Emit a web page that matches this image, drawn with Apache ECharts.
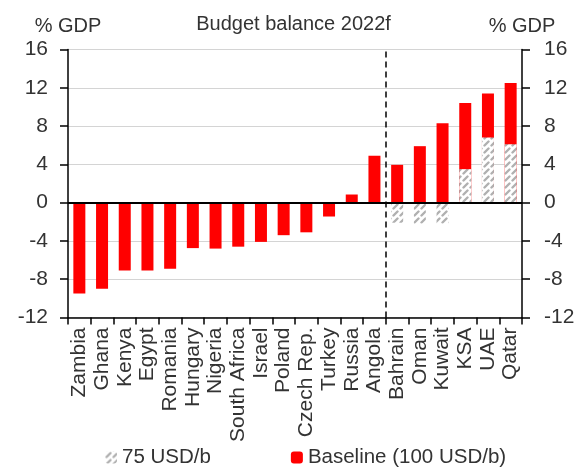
<!DOCTYPE html>
<html>
<head>
<meta charset="utf-8">
<script src="https://cdn.jsdelivr.net/npm/echarts@6/dist/echarts.min.js"></script>
<style>
  html, body { margin: 0; padding: 0; background: #fff; }
  #chart { width: 587px; height: 475px; }
</style>
</head>
<body>
<div id="chart"></div>
<script>
// Budget balance 2022f, % of GDP
const countries = ['Zambia', 'Ghana', 'Kenya', 'Egypt', 'Romania', 'Hungary', 'Nigeria',
  'South Africa', 'Israel', 'Poland', 'Czech Rep.', 'Turkey', 'Russia', 'Angola',
  'Bahrain', 'Oman', 'Kuwait', 'KSA', 'UAE', 'Qatar'];
// Baseline scenario (oil at 100 USD/b)
const baseline = [-9.5, -9.0, -7.1, -7.1, -6.9, -4.75, -4.8, -4.6, -4.1, -3.4, -3.1, -1.45,
  0.85, 4.9, 3.95, 5.9, 8.3, 10.4, 11.4, 12.5];
// Lower oil price scenario (75 USD/b), GCC only
const lowOil = [null, null, null, null, null, null, null, null, null, null, null, null,
  null, null, -2.1, -2.2, -2.2, 3.5, 6.8, 6.1];
const yTicks = [-12, -8, -4, 0, 4, 8, 12, 16];
// GCC block starts after this many categories
const gccStart = 14;

const FONT = "'Liberation Sans', Arial, sans-serif";
const TXT = '#333';

// diagonal dashed hatch fill
function hatch() {
  const c = document.createElement('canvas');
  c.width = 7; c.height = 7;
  const g = c.getContext('2d');
  g.fillStyle = '#fff';
  g.fillRect(0, 0, 7, 7);
  g.strokeStyle = '#b0b0b0';
  g.lineWidth = 2.4;
  g.lineCap = 'round';
  g.beginPath();
  g.moveTo(1.5, 5.5);
  g.lineTo(5.5, 1.5);
  g.stroke();
  return c;
}
const hatchFill = { image: hatch(), repeat: 'repeat' };

const chart = echarts.init(document.getElementById('chart'), null, { renderer: 'canvas' });

const yAxisBase = {
  type: 'value',
  min: yTicks[0],
  max: yTicks[yTicks.length - 1],
  interval: 4,
  name: '% GDP',
  nameLocation: 'end',
  nameGap: 13,
  nameTextStyle: { fontFamily: FONT, fontSize: 20, color: TXT },
  axisLine: { show: true, lineStyle: { color: '#000', width: 1.5 } },
  axisTick: { show: true, length: 8, lineStyle: { color: '#000', width: 1.5 } }
};

chart.setOption({
  animation: false,
  title: {
    text: 'Budget balance 2022f',
    left: 'center',
    top: 9,
    textStyle: { fontFamily: FONT, fontSize: 20, fontWeight: 'normal', color: TXT }
  },
  legend: {
    data: ['75 USD/b', 'Baseline (100 USD/b)'],
    left: 100,
    top: 442,
    itemWidth: 12,
    itemHeight: 12,
    itemGap: 80,
    textStyle: { fontFamily: FONT, fontSize: 20.5, color: TXT }
  },
  grid: { left: 68, right: 65, top: 49.5, bottom: 157.5 },
  xAxis: [{
    type: 'category',
    data: countries,
    position: 'bottom',
    axisLine: { onZero: false, lineStyle: { color: '#000', width: 1.5 } },
    axisTick: { show: true, length: 7, lineStyle: { color: '#000', width: 1.5 } },
    axisLabel: { rotate: 90, interval: 0, margin: 10, fontFamily: FONT, fontSize: 21, color: TXT }
  }, {
    // helper axis for the separator between groups
    type: 'value',
    min: 0,
    max: countries.length,
    show: false
  }],
  yAxis: [
    Object.assign({}, yAxisBase, {
      position: 'left',
      axisLabel: { fontFamily: FONT, fontSize: 21, color: TXT, margin: 20 },
      splitLine: { show: true, lineStyle: { color: '#d4d4d4', width: 1.2 } }
    }),
    Object.assign({}, yAxisBase, {
      position: 'right',
      axisLabel: { fontFamily: FONT, fontSize: 21, color: TXT, margin: 22 },
      splitLine: { show: false }
    })
  ],
  series: [{
    name: 'Baseline (100 USD/b)',
    type: 'bar',
    data: baseline,
    barWidth: 12,
    itemStyle: { color: '#ff0000' },
    markLine: {
      silent: true,
      symbol: 'none',
      label: { show: false },
      lineStyle: { color: '#000', width: 2, type: 'solid' },
      data: [{ yAxis: 0 }]
    }
  }, {
    name: '75 USD/b',
    type: 'bar',
    data: lowOil,
    barWidth: 12,
    barGap: '-100%',
    itemStyle: { color: hatchFill }
  }, {
    name: 'separator',
    type: 'line',
    xAxisIndex: 1,
    data: [],
    markLine: {
      silent: true,
      symbol: 'none',
      label: { show: false },
      lineStyle: { color: '#000', width: 1.5, type: [6, 4] },
      data: [{ xAxis: gccStart }]
    }
  }]
});
</script>
</body>
</html>
